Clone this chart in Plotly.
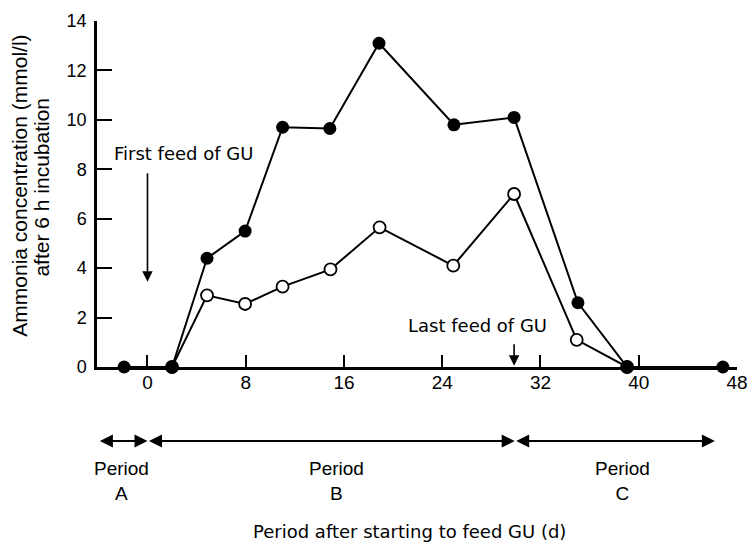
import plotly.graph_objects as go

# Data
days_filled = [-1.9, 2.0, 4.85, 7.95, 11.0, 14.85, 18.85, 24.95, 29.85, 35.05, 39.05, 46.85]
ammonia_filled = [0, 0, 4.4, 5.5, 9.7, 9.65, 13.1, 9.8, 10.1, 2.6, 0, 0]
days_open = [2.0, 4.85, 7.95, 11.0, 14.9, 18.9, 24.9, 29.85, 34.95, 39.05]
ammonia_open = [0, 2.9, 2.55, 3.25, 3.95, 5.65, 4.1, 7.0, 1.1, 0]
x_ticks = [0, 8, 16, 24, 32, 40, 48]
y_ticks = [0, 2, 4, 6, 8, 10, 12, 14]
periods = ["Period<br>A", "Period<br>B", "Period<br>C"]
period_bounds = [(-4.0, 0), (0, 29.9), (29.9, 46.2)]
period_label_x = [-2.1, 15.35, 38.7]

SANS = "Liberation Sans, Arial, sans-serif"
WIDE = "DejaVu Sans, Verdana, sans-serif"

fig = go.Figure()
fig.add_trace(go.Scatter(
    x=days_open, y=ammonia_open, mode="lines+markers", cliponaxis=False,
    line=dict(color="black", width=2),
    marker=dict(size=12, color="white", line=dict(color="black", width=1.8)),
    showlegend=False))
fig.add_trace(go.Scatter(
    x=days_filled, y=ammonia_filled, mode="lines+markers", cliponaxis=False,
    line=dict(color="black", width=2),
    marker=dict(size=13, color="black"),
    showlegend=False))

fig.update_layout(
    width=750, height=544,
    margin=dict(l=97, r=13, t=21, b=177, autoexpand=False),
    paper_bgcolor="white", plot_bgcolor="white",
    font=dict(family=SANS, size=18, color="black"),
    xaxis=dict(range=[-4.11, 48], tickvals=x_ticks, ticks="inside", ticklen=12,
               tickwidth=2, tickcolor="black", showline=True, linecolor="black",
               linewidth=2.5, showgrid=False, zeroline=False, automargin=False,
               tickfont=dict(family=SANS, size=19), ticklabelstandoff=-4,
               ticklabeloverflow="allow"),
    yaxis=dict(range=[0, 14], tickvals=y_ticks, ticks="inside", ticklen=15,
               tickwidth=2, tickcolor="black", showline=True, linecolor="black",
               linewidth=2.5, showgrid=False, zeroline=False, automargin=False,
               tickfont=dict(family=SANS, size=18), ticklabelstandoff=4),
)

C = dict(xanchor="center", yanchor="middle")
annotations = []
# Y axis title (two lines)
annotations.append(dict(
    text="Ammonia concentration (mmol/l)",
    xref="paper", yref="paper", x=-0.1203, y=0.524, showarrow=False,
    textangle=-90, font=dict(family=SANS, size=21), **C))
annotations.append(dict(
    text="after 6 h incubation",
    xref="paper", yref="paper", x=-0.0867, y=0.52, showarrow=False,
    textangle=-90, font=dict(family=SANS, size=21), **C))
# X axis title
annotations.append(dict(
    text="Period after starting to feed GU (d)", xref="paper", yref="paper",
    x=0.489, y=-0.474, showarrow=False, font=dict(family=WIDE, size=18), **C))
# First feed arrow
annotations.append(dict(
    text="", x=0, y=3.45, ax=0, ay=7.9, xref="x", yref="y", axref="x", ayref="y",
    showarrow=True, arrowhead=2, arrowsize=1.3, arrowwidth=1.6, arrowcolor="black"))
annotations.append(dict(
    text="First feed of GU", x=2.97, y=8.65, xref="x", yref="y", showarrow=False,
    font=dict(family=WIDE, size=18), **C))
# Last feed arrow
annotations.append(dict(
    text="", x=29.85, y=0.05, ax=29.85, ay=0.98, xref="x", yref="y", axref="x",
    ayref="y", showarrow=True, arrowhead=2, arrowsize=1.3, arrowwidth=1.6,
    arrowcolor="black"))
annotations.append(dict(
    text="Last feed of GU", x=26.87, y=1.68, xref="x", yref="y", showarrow=False,
    font=dict(family=WIDE, size=18), **C))
# Period arrows and labels
for (a, b), lab, lx in zip(period_bounds, periods, period_label_x):
    annotations.append(dict(
        text="", x=b, y=-0.214, ax=a, ay=0, xref="x", yref="paper",
        axref="x", ayref="pixel", showarrow=True, arrowhead=2, startarrowhead=2,
        arrowside="end+start", arrowsize=1.3, startarrowsize=1.3, arrowwidth=2,
        arrowcolor="black"))
    annotations.append(dict(
        text=lab, x=lx, y=-0.329, xref="x", yref="paper", showarrow=False,
        font=dict(family=SANS, size=19), align="center", **C))

fig.update_layout(annotations=annotations)
fig.write_html(
    "out.html",
    config={"displayModeBar": False},
    post_script="document.body.style.margin='0';document.body.style.overflow='hidden';",
)
